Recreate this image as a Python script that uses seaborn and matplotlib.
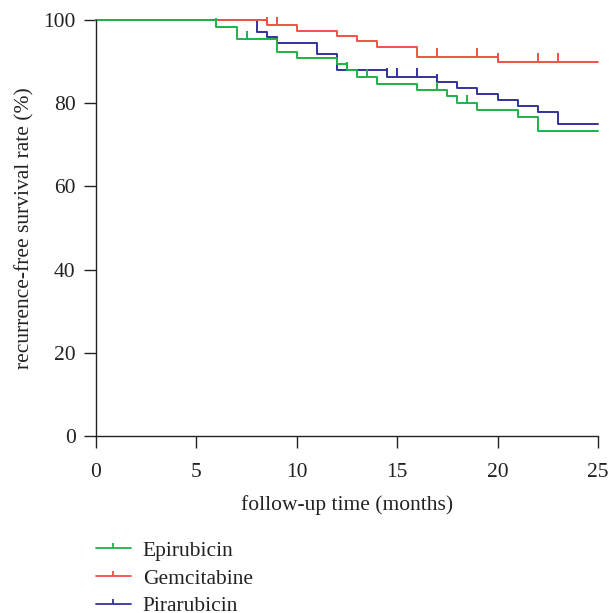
import pandas as pd
import seaborn as sns
import matplotlib.pyplot as plt
from matplotlib.lines import Line2D

# Kaplan-Meier steps (months, survival %)
epi_times = [0, 6, 7, 9, 10, 12, 12.5, 13, 14, 16, 17.5, 18, 19, 21, 22, 25]
epi_surv = [100, 98.4, 95.4, 92.4, 90.9, 89.4, 88.0, 86.2, 84.6, 83.2, 81.8, 80.0, 78.4, 76.6, 73.4, 73.4]
epi_cens = [6, 7.5, 12.5, 13.5, 17, 18.5]

gem_times = [0, 8.5, 10, 12, 13, 14, 16, 20, 25]
gem_surv = [100, 98.8, 97.4, 96.2, 94.9, 93.6, 91.2, 90.0, 90.0]
gem_cens = [8.5, 9, 17, 19, 20, 22, 23]

pir_times = [0, 8, 8.5, 9, 11, 12, 14.5, 17, 18, 19, 20, 21, 22, 23, 25]
pir_surv = [100, 97.2, 95.8, 94.4, 91.8, 88.0, 86.4, 85.0, 83.6, 82.1, 80.8, 79.4, 77.8, 75.0, 75.0]
pir_cens = [14.5, 15, 16, 17]

groups = ['Epirubicin', 'Gemcitabine', 'Pirarubicin']
colors = {'Epirubicin': '#1fb14a', 'Gemcitabine': '#ef5247', 'Pirarubicin': '#33339a'}
series = {
    'Epirubicin': (epi_times, epi_surv, epi_cens),
    'Gemcitabine': (gem_times, gem_surv, gem_cens),
    'Pirarubicin': (pir_times, pir_surv, pir_cens),
}

sns.set_style('white')
plt.rcParams['font.family'] = ['Liberation Serif', 'DejaVu Serif']
fs = 15.5

fig = plt.figure(figsize=(6.11, 6.13), dpi=100)
ax = fig.add_axes([0.157, 0.2887, 0.8217, 0.6787])

def level_at(times, surv, t):
    lev = surv[0]
    for ti, si in zip(times, surv):
        if ti <= t:
            lev = si
    return lev

# draw order: blue, red, green on top
for name in ['Pirarubicin', 'Gemcitabine', 'Epirubicin']:
    times, surv, cens = series[name]
    df = pd.DataFrame({'time': times, 'surv': surv})
    sns.lineplot(data=df, x='time', y='surv', ax=ax, color=colors[name],
                 drawstyle='steps-post', linewidth=1.4, estimator=None,
                 sort=False, clip_on=False)
    levels = [level_at(times, surv, c) for c in cens]
    ax.vlines(cens, levels, [l + 2.0 for l in levels], color=colors[name],
              linewidth=1.4, clip_on=False)

ax.set_xlim(0, 25)
ax.set_ylim(0, 100)
ax.set_xticks([0, 5, 10, 15, 20, 25])
ax.set_yticks([0, 20, 40, 60, 80, 100])
sns.despine(ax=ax)
for s in ['left', 'bottom']:
    ax.spines[s].set_color('#222222')
    ax.spines[s].set_linewidth(1.0)
ax.tick_params(axis='both', direction='out', length=8.6, width=1.0, color='#222222',
               labelsize=fs, labelcolor='#222222', bottom=True, left=True)
ax.tick_params(axis='x', pad=10.5)
ax.tick_params(axis='y', pad=6)
ax.set_xlabel('follow-up time (months)', fontsize=fs, color='#222222', labelpad=9.5)
ax.set_ylabel('recurrence-free survival rate (%)', fontsize=fs, color='#222222', labelpad=6)

handles = [Line2D([0], [0], color=colors[g], linewidth=1.3,
                  marker=[(0, 0), (0, 1)], markersize=7.5,
                  markeredgecolor=colors[g], markeredgewidth=1.3)
           for g in groups]
fig.legend(handles, groups, loc='upper left', bbox_to_anchor=(0.125, 0.1495),
           frameon=False, fontsize=fs, handlelength=1.63, labelspacing=0.36,
           numpoints=1, handletextpad=0.56, labelcolor='#222222')

fig.savefig('out.png', dpi=100)
